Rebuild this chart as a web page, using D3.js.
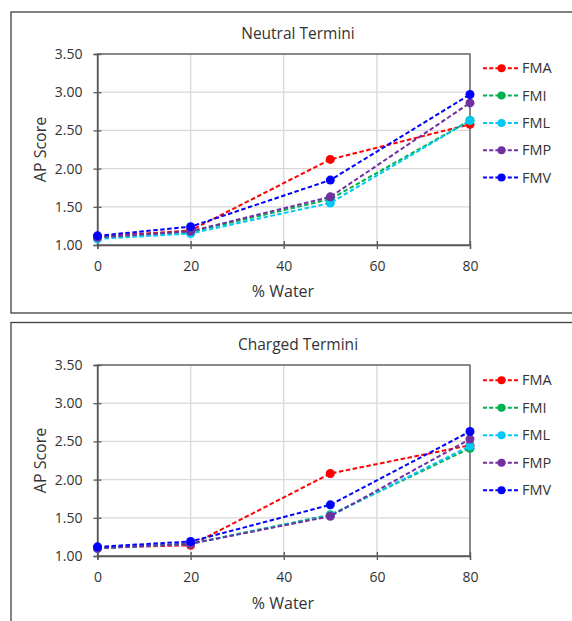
<!DOCTYPE html>
<html>
<head>
<meta charset="utf-8">
<script src="https://cdn.jsdelivr.net/npm/d3@7"></script>
<style>
  body { margin: 0; background: #fff; }
  text { font-family: "Open Sans", "Noto Sans", sans-serif; fill: #333; }
</style>
</head>
<body>
<svg id="chart" width="572" height="621"></svg>
<script>
var water = [0, 20, 50, 80];
var names = ["FMA", "FMI", "FML", "FMP", "FMV"];
var colors = ["#FF0000", "#00B050", "#00C8F5", "#7030A0", "#0000FF"];
var yTicks = [1.00, 1.50, 2.00, 2.50, 3.00, 3.50];
var xTicks = [0, 20, 40, 60, 80];

// Neutral Termini
var neutralFMA = [1.11, 1.19, 2.12, 2.58];
var neutralFMI = [1.10, 1.17, 1.60, 2.63];
var neutralFML = [1.08, 1.15, 1.55, 2.63];
var neutralFMP = [1.10, 1.18, 1.63, 2.86];
var neutralFMV = [1.12, 1.24, 1.85, 2.97];

// Charged Termini
var chargedFMA = [1.11, 1.14, 2.08, 2.45];
var chargedFMI = [1.10, 1.16, 1.54, 2.41];
var chargedFML = [1.10, 1.16, 1.53, 2.44];
var chargedFMP = [1.10, 1.16, 1.52, 2.53];
var chargedFMV = [1.12, 1.19, 1.67, 2.63];

var svg = d3.select("#chart");

function drawPanel(p, title, series) {
  var g = svg.append("g");

  g.append("rect")
    .attr("x", 11).attr("y", p.top)
    .attr("width", 620).attr("height", p.height)
    .attr("fill", "#fff")
    .attr("stroke", "#404040").attr("stroke-width", 1.3);

  var x = d3.scaleLinear().domain([0, 80]).range([97.5, 470]);
  var y = d3.scaleLinear().domain([1, 3.5]).range([p.plotBottom, p.plotTop]);

  // gridlines
  g.append("g").selectAll("line")
    .data(yTicks).enter().append("line")
      .attr("x1", x(0)).attr("x2", x(80))
      .attr("y1", function(d){ return y(d); })
      .attr("y2", function(d){ return y(d); })
      .attr("stroke", "#D9D9D9").attr("stroke-width", 1.3);
  g.append("g").selectAll("line")
    .data(xTicks).enter().append("line")
      .attr("x1", function(d){ return x(d); })
      .attr("x2", function(d){ return x(d); })
      .attr("y1", y(3.5)).attr("y2", y(1))
      .attr("stroke", "#D9D9D9").attr("stroke-width", 1.3);

  // plot area box
  g.append("rect")
    .attr("x", x(0)).attr("y", y(3.5))
    .attr("width", x(80) - x(0)).attr("height", y(1) - y(3.5))
    .attr("fill", "none").attr("stroke", "#595959").attr("stroke-width", 1.3);

  var xAxis = g.append("g")
    .attr("transform", "translate(0," + y(1) + ")")
    .call(d3.axisBottom(x).tickValues(xTicks).tickSize(4).tickPadding(12).tickFormat(d3.format("d")));
  xAxis.selectAll(".tick line").attr("y1", -4);
  var yAxis = g.append("g")
    .attr("transform", "translate(" + x(0) + ",0)")
    .call(d3.axisLeft(y).tickValues(yTicks).tickSize(4).tickPadding(11).tickFormat(d3.format(".2f")));
  yAxis.selectAll(".tick line").attr("x1", 4);
  [xAxis, yAxis].forEach(function(a){
    a.select(".domain").attr("stroke", "#595959").attr("stroke-width", 1.3);
    a.selectAll(".tick line").attr("stroke", "#595959").attr("stroke-width", 1.3);
    a.selectAll(".tick text").attr("font-size", "14px")
      .attr("font-family", "'Open Sans', sans-serif").attr("fill", "#333");
  });

  g.append("text")
    .attr("x", 298).attr("y", p.titleY)
    .attr("dy", ".35em")
    .attr("text-anchor", "middle")
    .attr("font-size", "15.5px")
    .text(title);

  g.append("text")
    .attr("x", 283).attr("y", p.xTitleY)
    .attr("dy", ".35em")
    .attr("text-anchor", "middle")
    .attr("font-size", "16px")
    .text("% Water");

  g.append("text")
    .attr("transform", "translate(40.5," + ((y(1) + y(3.5)) / 2) + ") rotate(-90)")
    .attr("dy", ".35em")
    .attr("text-anchor", "middle")
    .attr("font-size", "16px")
    .text("AP Score");

  var line = d3.line()
    .x(function(d, i){ return x(water[i]); })
    .y(function(d){ return y(d); });

  series.forEach(function(vals, k){
    var s = g.append("g");
    s.append("path")
      .attr("d", line(vals))
      .attr("fill", "none")
      .attr("stroke", colors[k])
      .attr("stroke-width", 2)
      .attr("stroke-dasharray", "4.5,2.5");
    s.selectAll("circle").data(vals).enter().append("circle")
      .attr("cx", function(d, i){ return x(water[i]); })
      .attr("cy", function(d){ return y(d); })
      .attr("r", 4.5)
      .attr("fill", colors[k]);
  });

  // legend
  var lg = g.append("g").selectAll("g")
    .data(names).enter().append("g")
      .attr("transform", function(d, i){ return "translate(0," + (p.legendY + i * p.legendStep) + ")"; });
  lg.append("line")
    .attr("x1", 483).attr("x2", 519)
    .attr("stroke", function(d, i){ return colors[i]; })
    .attr("stroke-width", 2)
    .attr("stroke-dasharray", "4,2.2");
  lg.append("circle")
    .attr("cx", 501.5).attr("r", 4)
    .attr("fill", function(d, i){ return colors[i]; });
  lg.append("text")
    .attr("x", 522).attr("dy", ".35em")
    .attr("font-size", "14.5px")
    .text(function(d){ return d; });
}

drawPanel({top: 12, height: 301, plotTop: 54, plotBottom: 245, titleY: 34, xTitleY: 291,
           legendY: 68.3, legendStep: 27.3}, "Neutral Termini",
          [neutralFMA, neutralFMI, neutralFML, neutralFMP, neutralFMV]);
drawPanel({top: 322.5, height: 320, plotTop: 365, plotBottom: 556, titleY: 345, xTitleY: 603,
           legendY: 380.3, legendStep: 27.5}, "Charged Termini",
          [chargedFMA, chargedFMI, chargedFML, chargedFMP, chargedFMV]);
</script>
</body>
</html>
